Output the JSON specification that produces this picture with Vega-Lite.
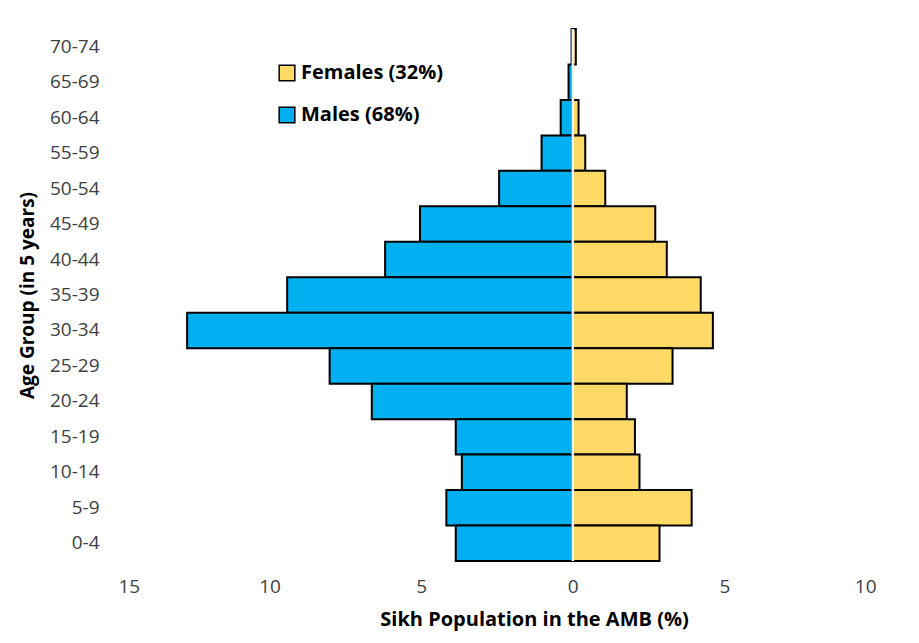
{
  "$schema": "https://vega.github.io/schema/vega-lite/v6.json",
  "width": 758,
  "height": 532,
  "autosize": {"type": "none"},
  "padding": {"left": 118, "top": 29, "right": 43, "bottom": 82},
  "background": "white",
  "config": {"view": {"stroke": null}, "font": "Open Sans"},
  "data": {"values": [
    {"age": "70-74", "sex": "Males (68%)", "value": -0.04},
    {"age": "65-69", "sex": "Males (68%)", "value": -0.14},
    {"age": "60-64", "sex": "Males (68%)", "value": -0.4},
    {"age": "55-59", "sex": "Males (68%)", "value": -1.03},
    {"age": "50-54", "sex": "Males (68%)", "value": -2.43},
    {"age": "45-49", "sex": "Males (68%)", "value": -5.04},
    {"age": "40-44", "sex": "Males (68%)", "value": -6.19},
    {"age": "35-39", "sex": "Males (68%)", "value": -9.42},
    {"age": "30-34", "sex": "Males (68%)", "value": -12.72},
    {"age": "25-29", "sex": "Males (68%)", "value": -8.02},
    {"age": "20-24", "sex": "Males (68%)", "value": -6.63},
    {"age": "15-19", "sex": "Males (68%)", "value": -3.86},
    {"age": "10-14", "sex": "Males (68%)", "value": -3.66},
    {"age": "5-9", "sex": "Males (68%)", "value": -4.17},
    {"age": "0-4", "sex": "Males (68%)", "value": -3.86},
    {"age": "70-74", "sex": "Females (32%)", "value": 0.1},
    {"age": "65-69", "sex": "Females (32%)", "value": 0.0},
    {"age": "60-64", "sex": "Females (32%)", "value": 0.19},
    {"age": "55-59", "sex": "Females (32%)", "value": 0.41},
    {"age": "50-54", "sex": "Females (32%)", "value": 1.07},
    {"age": "45-49", "sex": "Females (32%)", "value": 2.72},
    {"age": "40-44", "sex": "Females (32%)", "value": 3.1},
    {"age": "35-39", "sex": "Females (32%)", "value": 4.22},
    {"age": "30-34", "sex": "Females (32%)", "value": 4.62},
    {"age": "25-29", "sex": "Females (32%)", "value": 3.29},
    {"age": "20-24", "sex": "Females (32%)", "value": 1.78},
    {"age": "15-19", "sex": "Females (32%)", "value": 2.05},
    {"age": "10-14", "sex": "Females (32%)", "value": 2.2},
    {"age": "5-9", "sex": "Females (32%)", "value": 3.92},
    {"age": "0-4", "sex": "Females (32%)", "value": 2.86}
  ]},
  "layer": [
    {
      "mark": {"type": "bar", "stroke": "black", "strokeWidth": 2},
      "encoding": {
        "y": {
          "field": "age", "type": "nominal",
          "sort": ["70-74","65-69","60-64","55-59","50-54","45-49","40-44","35-39","30-34","25-29","20-24","15-19","10-14","5-9","0-4"],
          "scale": {"paddingInner": 0, "paddingOuter": 0},
          "axis": {
            "title": "Age Group (in 5 years)",
            "titleFontSize": 19, "titleFontWeight": "bold", "titleColor": "#000000",
            "titleX": -81,
            "labelFontSize": 19, "labelColor": "#404040", "labelPadding": 19,
            "domain": false, "ticks": false
          }
        },
        "x": {
          "field": "value", "type": "quantitative",
          "scale": {"domain": [-15, 10], "nice": false},
          "axis": {
            "values": [-15, -10, -5, 0, 5, 10],
            "labelExpr": "abs(datum.value)",
            "title": "Sikh Population in the AMB (%)",
            "titleFontSize": 20, "titleFontWeight": "bold", "titleColor": "#000000",
            "titleX": 416, "titleY": 48,
            "labelFontSize": 19, "labelColor": "#404040", "labelPadding": 16,
            "grid": false, "domain": false, "ticks": false
          }
        },
        "color": {
          "field": "sex", "type": "nominal",
          "scale": {"domain": ["Females (32%)", "Males (68%)"], "range": ["#FFD966", "#00B0F0"]},
          "legend": {
            "title": null,
            "orient": "none", "legendX": 159, "legendY": 34,
            "symbolType": "square", "symbolSize": 246,
            "symbolStrokeColor": "black", "symbolStrokeWidth": 1.5,
            "labelFontSize": 20, "labelFontWeight": "bold", "labelColor": "#000000",
            "labelOffset": 4, "rowPadding": 20
          }
        }
      }
    },
    {
      "mark": {"type": "rule", "color": "#f0f0f0", "strokeWidth": 2.5},
      "data": {"values": [{"x": 0}]},
      "encoding": {"x": {"field": "x", "type": "quantitative"}}
    }
  ]
}
